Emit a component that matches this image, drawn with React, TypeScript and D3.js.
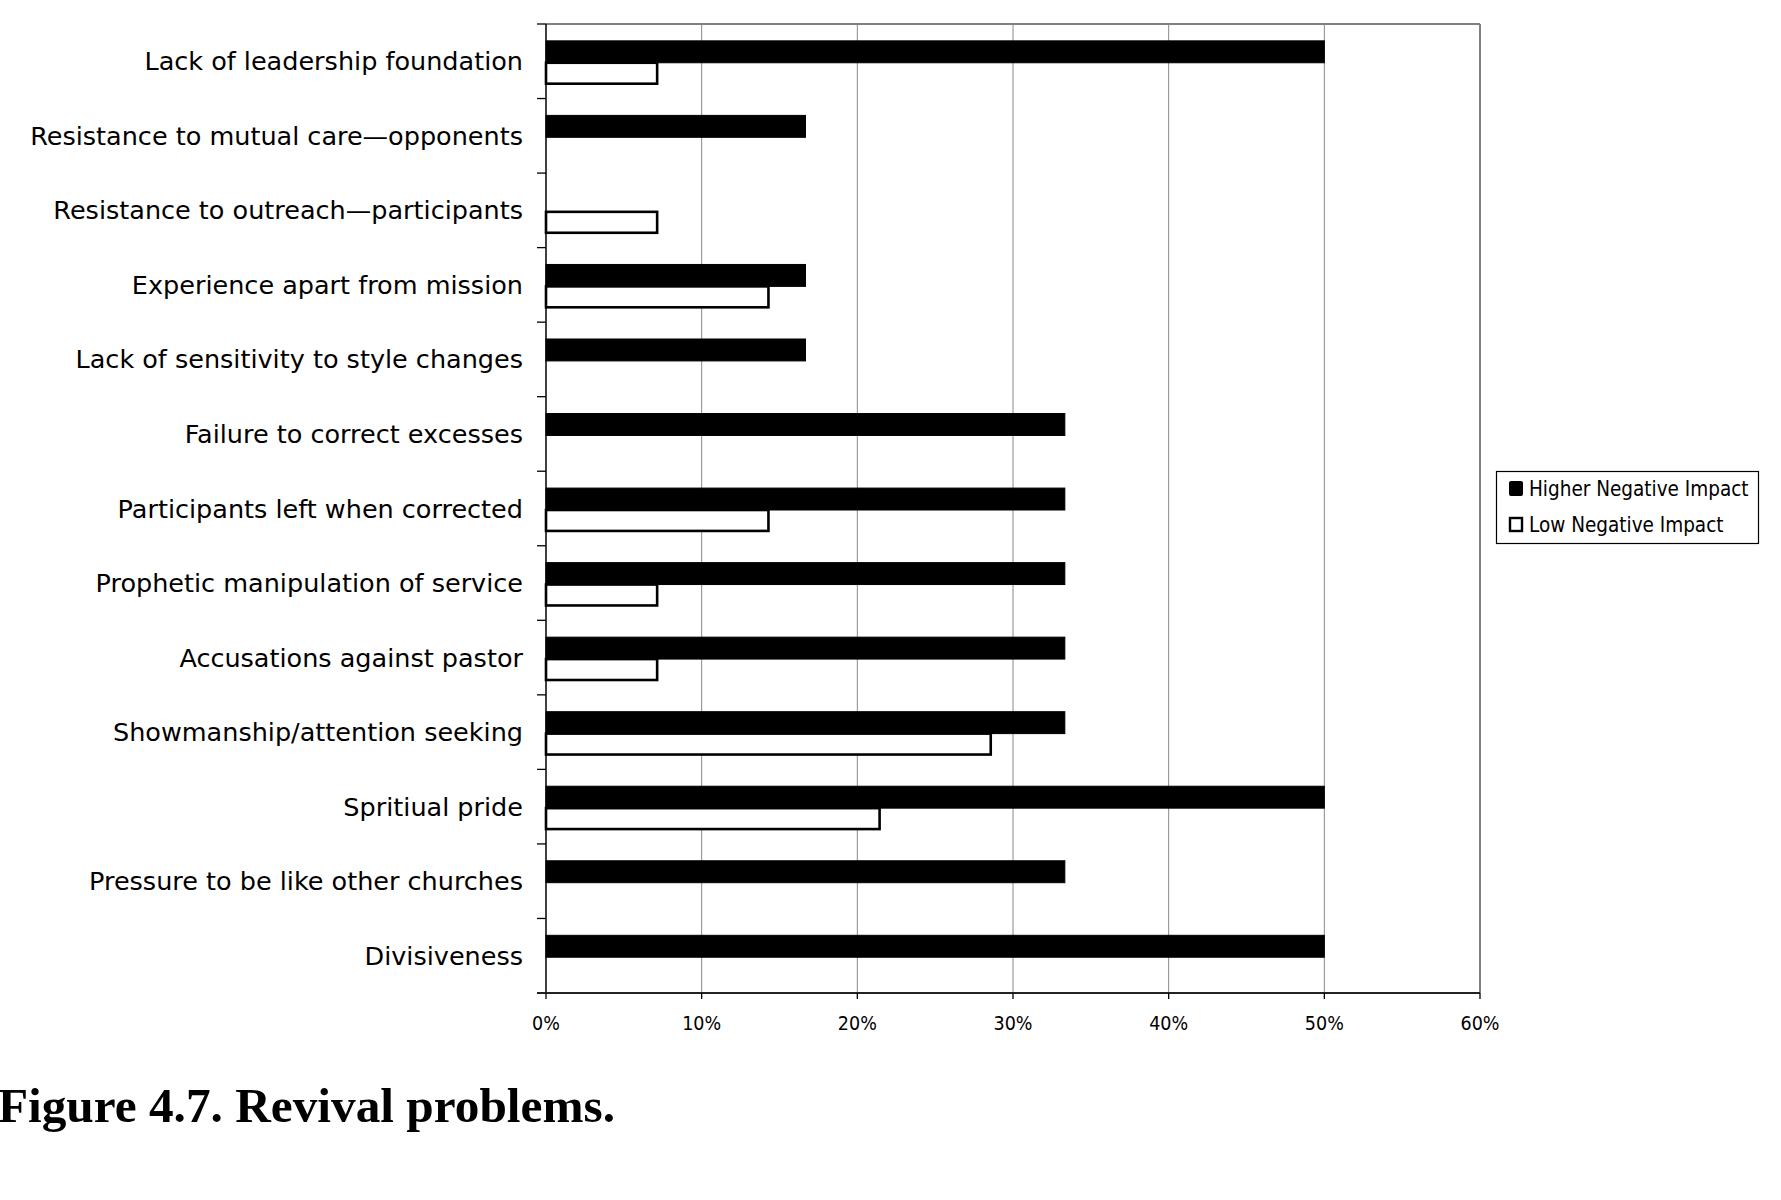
import React from "react";
import * as d3 from "d3";

const categories = [
  "Lack of leadership foundation",
  "Resistance to mutual care\u2014opponents",
  "Resistance to outreach\u2014participants",
  "Experience apart from mission",
  "Lack of sensitivity to style changes",
  "Failure to correct excesses",
  "Participants left when corrected",
  "Prophetic manipulation of service",
  "Accusations against pastor",
  "Showmanship/attention seeking",
  "Spritiual pride",
  "Pressure to be like other churches",
  "Divisiveness",
];
const higherImpact = [0.5, 0.1667, 0, 0.1667, 0.1667, 0.3333, 0.3333, 0.3333, 0.3333, 0.3333, 0.5, 0.3333, 0.5];
const lowImpact = [0.0714, 0, 0.0714, 0.1429, 0, 0, 0.1429, 0.0714, 0.0714, 0.2857, 0.2143, 0, 0];
const seriesNames = ["Higher Negative Impact", "Low Negative Impact"];
const xTicks = [0, 0.1, 0.2, 0.3, 0.4, 0.5, 0.6];
const caption = "Figure 4.7. Revival problems.";

const W = 1781;
const H = 1200;
const plot = { left: 546, right: 1480, top: 24, bottom: 993 };

export default function App() {
  const x = d3.scaleLinear().domain([0, 0.6]).range([plot.left, plot.right]);
  const y = d3.scaleBand<string>().domain(categories).range([plot.top, plot.bottom]).paddingInner(0).paddingOuter(0);
  const bw = y.bandwidth();
  const barH = bw / 3.4;
  const fmt = d3.format(".0%");
  const labelFont = "'DejaVu Sans', sans-serif";
  const condFont = "'DejaVu Sans Condensed', 'DejaVu Sans', sans-serif";

  return (
    <div style={{ position: "absolute", left: 0, top: 0 }}>
      <svg width={W} height={H} style={{ display: "block", background: "#fff" }}>
        {/* gridlines */}
        {xTicks.slice(1).map((t) => (
          <line key={"g" + t} x1={x(t)} x2={x(t)} y1={plot.top} y2={plot.bottom} stroke="#8a8a8a" strokeWidth={1} />
        ))}
        {/* plot border top/right */}
        <line x1={plot.left} x2={plot.right} y1={plot.top} y2={plot.top} stroke="#808080" strokeWidth={2} />
        <line x1={plot.right} x2={plot.right} y1={plot.top} y2={plot.bottom} stroke="#808080" strokeWidth={2} />
        {/* bars */}
        {categories.map((c, i) => {
          const y0 = (y(c) as number) + bw / 2 - barH + 1.5;
          return (
            <g key={"b" + i}>
              <rect x={x(0)} y={y0} width={x(higherImpact[i]) - x(0)} height={barH} fill="#000" stroke="#000" strokeWidth={1} />
              {lowImpact[i] > 0 && (
                <rect x={x(0)} y={y0 + barH} width={x(lowImpact[i]) - x(0)} height={barH - 1} fill="#fff" stroke="#000" strokeWidth={2.6} />
              )}
            </g>
          );
        })}
        {/* axes */}
        <line x1={plot.left} x2={plot.left} y1={plot.top} y2={plot.bottom} stroke="#000" strokeWidth={1.5} />
        <line x1={plot.left - 9} x2={plot.right} y1={plot.bottom} y2={plot.bottom} stroke="#222" strokeWidth={2} />
        {categories.map((c, i) => (
          <line key={"ct" + i} x1={plot.left - 9} x2={plot.left} y1={y(c) as number} y2={y(c) as number} stroke="#000" strokeWidth={1.3} />
        ))}
        {xTicks.map((t) => (
          <line key={"xt" + t} x1={x(t)} x2={x(t)} y1={plot.bottom} y2={plot.bottom + 6} stroke="#000" strokeWidth={1.3} />
        ))}
        {/* category labels */}
        {categories.map((c, i) => (
          <text key={"l" + i} x={523} y={(y(c) as number) + bw / 2 + 9} textAnchor="end" fontFamily={labelFont} fontSize={25.5} fill="#000">
            {c}
          </text>
        ))}
        {/* x tick labels */}
        {xTicks.map((t) => (
          <text key={"xl" + t} x={x(t)} y={1030} textAnchor="middle" fontFamily={condFont} fontSize={19.5} fill="#000">
            {fmt(t)}
          </text>
        ))}
        {/* legend */}
        <rect x={1496.5} y={471.5} width={262} height={72} fill="#fff" stroke="#000" strokeWidth={1.2} />
        <rect x={1509} y={481} width={14} height={15} rx={2} fill="#000" />
        <text x={1529} y={496} fontFamily={condFont} fontSize={20.5} fill="#000">{seriesNames[0]}</text>
        <rect x={1510} y={518} width={12} height={13} fill="#fff" stroke="#000" strokeWidth={2.4} />
        <text x={1529} y={532} fontFamily={condFont} fontSize={20.5} fill="#000">{seriesNames[1]}</text>
        {/* caption (left edge clipped as in the reference) */}
        <text x={615} y={1122} textAnchor="end" fontFamily="'Liberation Serif', 'Times New Roman', serif" fontWeight="bold" fontSize={49.3} fill="#000">
          {caption}
        </text>
      </svg>
    </div>
  );
}
